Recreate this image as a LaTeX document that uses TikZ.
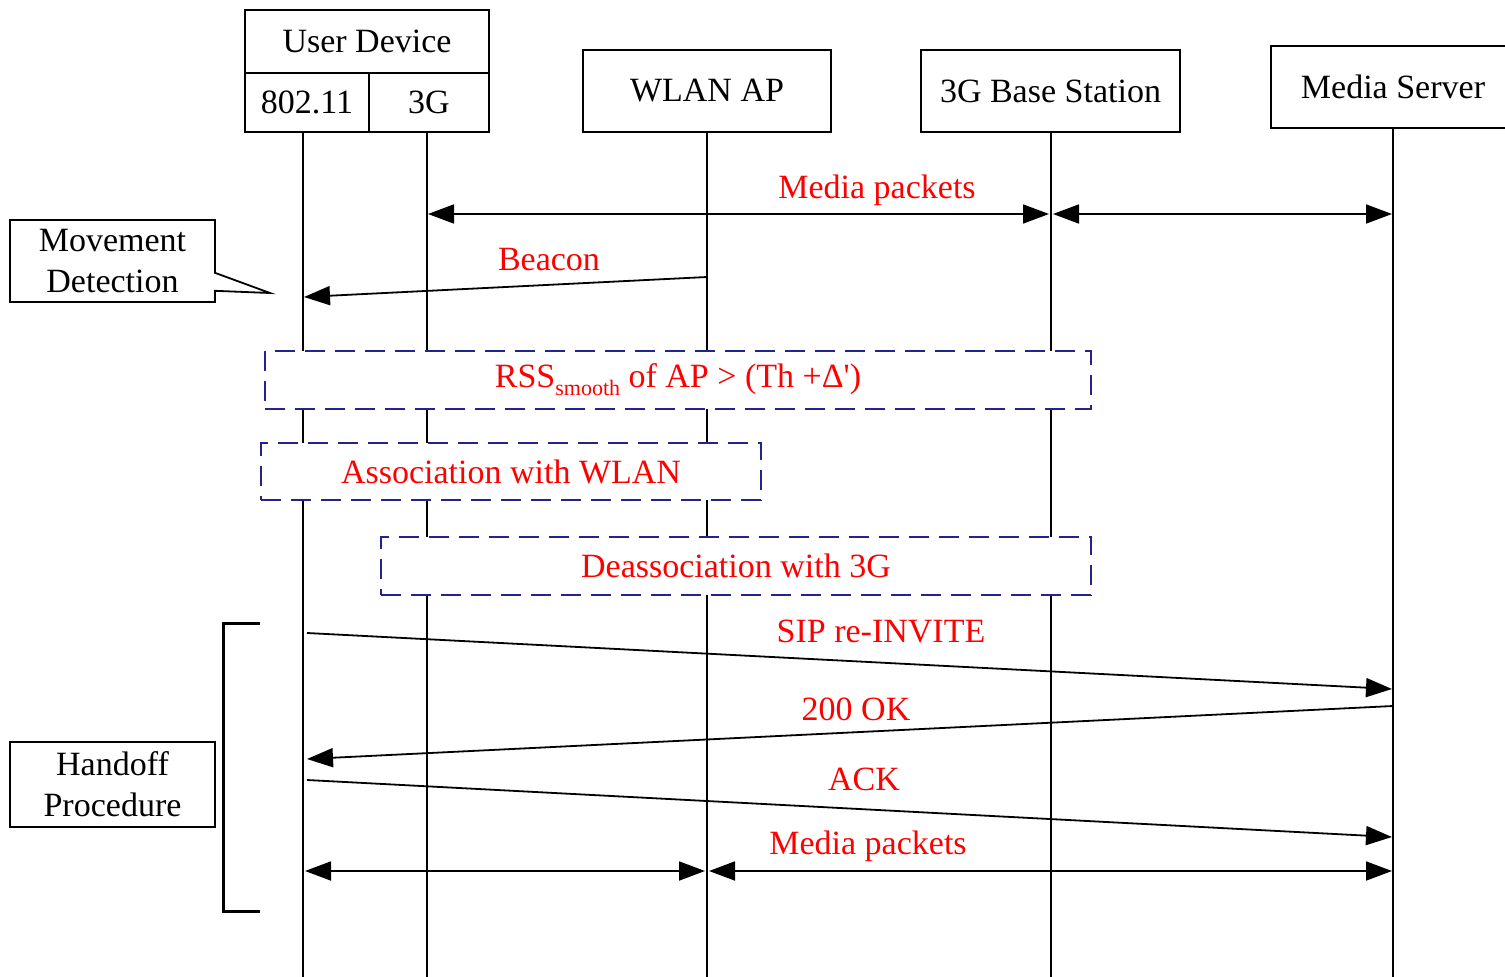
\documentclass[tikz,border=0pt]{standalone}
\usepackage{fontspec}
\setmainfont{Liberation Serif}
\usetikzlibrary{arrows.meta,shapes.callouts}
\definecolor{msgred}{RGB}{255,0,0}
\definecolor{dashblue}{RGB}{35,35,140}
\begin{document}
\begin{tikzpicture}[x=1pt,y=-1pt,
  txt/.style={font=\fontsize{34}{41}\selectfont},
  hdr/.style={draw,line width=1.8pt,inner sep=0pt,txt},
  life/.style={line width=1.5pt},
  msg/.style={line width=1.8pt},
  tip/.style={-{Triangle[length=26pt,width=19pt]}},
  dtip/.style={{Triangle[length=26pt,width=19pt]}-{Triangle[length=26pt,width=19pt]}},
  lbl/.style={txt,text=msgred,inner sep=0pt},
  dbox/.style={draw=dashblue,fill=white,line width=2pt,dash pattern=on 20pt off 10pt,txt,text=msgred,inner sep=0pt},
  note/.style={draw,line width=1.8pt,fill=white,txt,align=center,inner sep=0pt}]
\useasboundingbox (0,0) rectangle (1505,977);
\clip (0,0) rectangle (1505,977);
\fill[white] (0,0) rectangle (1505,977);
% headers
\node[hdr,minimum width=244,minimum height=63] (ud) at (367,41.5) {User Device};
\node[hdr,minimum width=124,minimum height=59] (ud1) at (307,102.5) {802.11};
\node[hdr,minimum width=120,minimum height=59] (ud2) at (429,102.5) {3G};
\node[hdr,minimum width=248,minimum height=82] (wlan) at (707,91) {WLAN AP};
\node[hdr,minimum width=259,minimum height=82] (bs) at (1050.5,91) {3G Base Station};
\node[hdr,minimum width=244,minimum height=82] (ms) at (1393,87) {Media Server};
% lifeline bottoms
\coordinate (la) at (303,977);
\coordinate (lb) at (427,977);
\coordinate (lc) at (707,977);
\coordinate (ld) at (1051,977);
\coordinate (le) at (1393,977);
\draw[life] (ud1.south -| la) -- (la);
\draw[life] (ud2.south -| lb) -- (lb);
\draw[life] (wlan.south -| lc) -- (lc);
\draw[life] (bs.south -| ld) -- (ld);
\draw[life] (ms.south -| le) -- (le);
% media packets 1
\coordinate (m1b) at (428,214);
\coordinate (m1d) at (1049,214);
\coordinate (m1d2) at (1053,214);
\coordinate (m1e) at (1392,214);
\draw[msg,dtip] (m1b) -- (m1d);
\draw[msg,dtip] (m1d2) -- (m1e);
\node[lbl] (lm1) at (877,190) {Media packets};
% beacon
\coordinate (bc0) at (707,277);
\coordinate (bc1) at (304,297);
\draw[msg,tip] (bc0) -- (bc1);
\node[lbl] (lbc) at (549,260) {Beacon};
% movement detection callout
\node[note,rectangle callout,callout absolute pointer={(270,293)},callout pointer width=18pt,minimum width=205,minimum height=82] (md) at (112.5,261) {Movement\\Detection};
% dashed boxes
\node[dbox,minimum width=826,minimum height=58] (rss) at (678,380)
  {RSS{\fontsize{22}{22}\selectfont\raisebox{-8pt}{smooth}} of AP > (Th +Δ\textquotesingle)};
\node[dbox,minimum width=500,minimum height=57] (assoc) at (511,471.5) {Association with WLAN};
\node[dbox,minimum width=710,minimum height=58] (deas) at (736,566) {Deassociation with 3G};
% SIP
\coordinate (s0) at (307,633);
\coordinate (s1) at (1392,689);
\draw[msg,tip] (s0) -- (s1);
\node[lbl] (ls) at (881,631) {SIP re-INVITE};
\coordinate (o0) at (1393,706);
\coordinate (o1) at (307,759);
\draw[msg,tip] (o0) -- (o1);
\node[lbl] (lo) at (856,709) {200 OK};
\coordinate (a0) at (307,780);
\coordinate (a1) at (1392,837);
\draw[msg,tip] (a0) -- (a1);
\node[lbl] (la2) at (864,779) {ACK};
% media packets 2
\coordinate (m2a) at (305,871);
\coordinate (m2c) at (705,871);
\coordinate (m2c2) at (709,871);
\coordinate (m2e) at (1392,871);
\draw[msg,dtip] (m2a) -- (m2c);
\draw[msg,dtip] (m2c2) -- (m2e);
\node[lbl] (lm2) at (868,846) {Media packets};
% handoff
\coordinate (br0) at (260,623);
\coordinate (br1) at (260,911);
\draw[line width=3pt] (br0) -- (223,623) -- (223,911) -- (br1);
\node[note,minimum width=205,minimum height=85] (ho) at (112.5,784.5) {Handoff\\Procedure};
\end{tikzpicture}
\end{document}
